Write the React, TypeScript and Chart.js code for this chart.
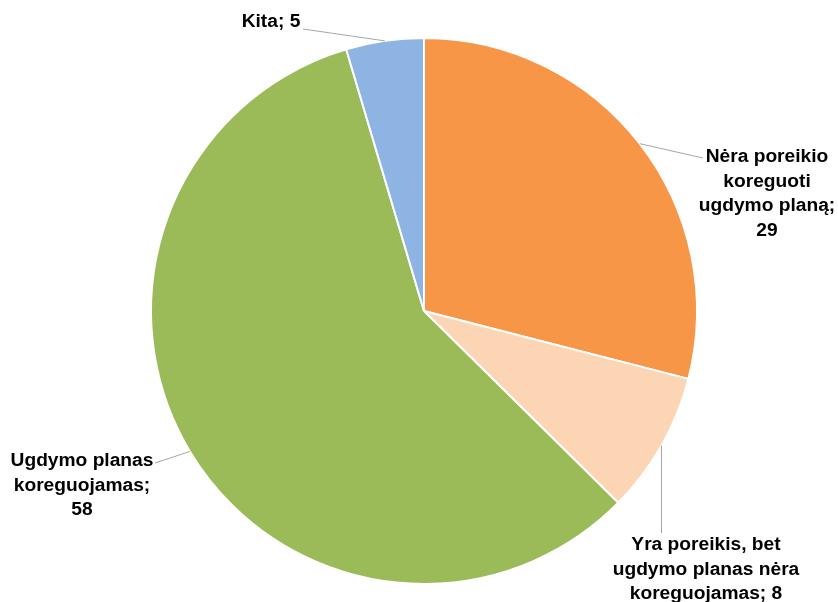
import React, { useEffect, useRef } from "react";
import { Chart, registerables } from "chart.js";

Chart.register(...registerables);

const categories = [
  "Nėra poreikio koreguoti ugdymo planą",
  "Yra poreikis, bet ugdymo planas nėra koreguojamas",
  "Ugdymo planas koreguojamas",
  "Kita",
];
const values = [29.0, 8.4, 58.0, 4.6];
const labelLines = [
  ["Nėra poreikio", "koreguoti", "ugdymo planą;", "29"],
  ["Yra poreikis, bet", "ugdymo planas nėra", "koreguojamas; 8"],
  ["Ugdymo planas", "koreguojamas;", "58"],
  ["Kita; 5"],
];
const colors = ["#F79646", "#FCD5B5", "#9BBB59", "#8EB4E3"];

// label layout: center x, first-line middle y, leader end point
const labelLayout = [
  { cx: 767, y: 157, lx: 703, ly: 158 },
  { cx: 706, y: 545, lx: 661.5, ly: 533 },
  { cx: 82, y: 461, lx: 155, ly: 463 },
  { cx: 271, y: 22, lx: 303, ly: 29 },
];
const LINE_H = 24.5;

const labelPlugin = {
  id: "pieLabels",
  afterDatasetsDraw(chart: any) {
    const ctx = chart.ctx;
    const meta = chart.getDatasetMeta(0);
    ctx.save();
    ctx.font = "bold 20px 'Liberation Sans', Arial, sans-serif";
    const w = ctx.measureText("Nėra poreikio").width;
    const size = Math.round((20 * 123) / w * 10) / 10;
    meta.data.forEach((arc: any, i: number) => {
      const p = arc.getProps(["x", "y", "startAngle", "endAngle", "outerRadius"], true);
      const mid = (p.startAngle + p.endAngle) / 2;
      const ax = p.x + Math.cos(mid) * p.outerRadius;
      const ay = p.y + Math.sin(mid) * p.outerRadius;
      const L = labelLayout[i];
      ctx.strokeStyle = "#A6A6A6";
      ctx.lineWidth = 1;
      ctx.beginPath();
      if (i === 1) {
        ctx.moveTo(L.lx, ay);
        ctx.lineTo(L.lx, L.ly);
      } else {
        ctx.moveTo(ax, ay);
        ctx.lineTo(L.lx, L.ly);
      }
      ctx.stroke();
      ctx.fillStyle = "#000000";
      ctx.font = `bold ${size}px 'Liberation Sans', Arial, sans-serif`;
      ctx.textAlign = "center";
      ctx.textBaseline = "middle";
      labelLines[i].forEach((t, k) => {
        ctx.fillText(t, L.cx, L.y + k * LINE_H);
      });
    });
    ctx.restore();
  },
};

export default function App() {
  const ref = useRef<HTMLCanvasElement>(null);
  useEffect(() => {
    if (!ref.current) return;
    const chart = new Chart(ref.current, {
      type: "pie",
      data: {
        labels: categories,
        datasets: [
          {
            data: values,
            backgroundColor: colors,
            borderColor: "#FFFFFF",
            borderWidth: 2,
          },
        ],
      },
      options: {
        responsive: false,
        animation: false,
        layout: { padding: { top: 37, bottom: 17, left: 150, right: 140 } },
        plugins: {
          legend: { display: false },
          tooltip: { enabled: false },
        },
      },
      plugins: [labelPlugin],
    });
    return () => chart.destroy();
  }, []);
  return (
    <div style={{ position: "absolute", left: 0, top: 0, width: 838, height: 602, background: "#fff" }}>
      <canvas ref={ref} width={838} height={602} style={{ width: 838, height: 602 }} />
    </div>
  );
}
